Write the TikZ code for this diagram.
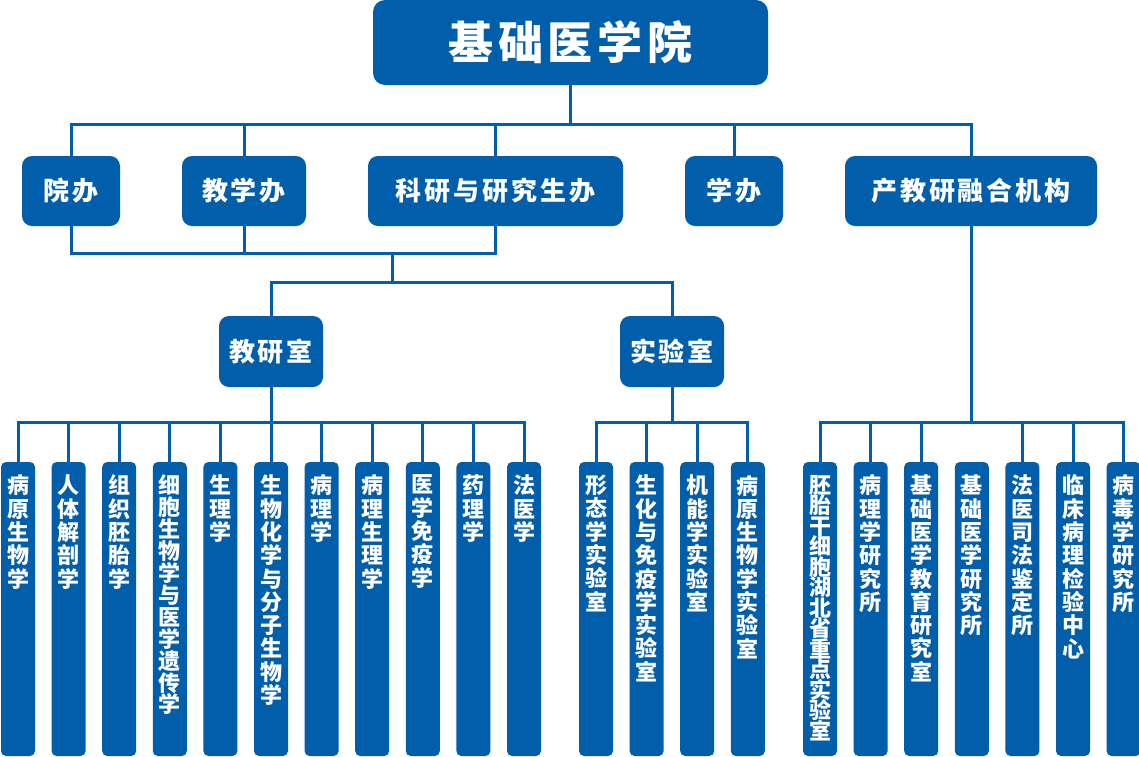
\documentclass[tikz,border=0pt]{standalone}
\usepackage{fontspec}
\setmainfont{Noto Sans CJK SC}[LetterSpace=11]
\usetikzlibrary{positioning}
\definecolor{jcblue}{RGB}{0,94,170}
\newcommand\colfont[1]{\fontsize{22}{#1}\selectfont\bfseries\addfontfeatures{LetterSpace=0}\lineskiplimit=-20pt\relax}

\begin{document}
\begin{tikzpicture}[x=1pt, y=-1pt, node distance=50.6pt,
	unit/.style = {fill=jcblue, rounded corners=10pt, text=white, minimum height=70pt, font=\fontsize{26}{26}\selectfont\bfseries},
	col/.style = {fill=jcblue, rounded corners=5pt, minimum width=34pt, minimum height=294pt, inner sep=0pt},
	coltext/.style = {text=white, align=center, inner sep=0pt, font=\colfont{23.3}},
	link/.style = {draw=jcblue, line width=3pt}]
	\useasboundingbox (0,0) rectangle (1139,756);
	% top
	\node[unit, rounded corners=12pt, minimum width=395pt, minimum height=85pt, font=\fontsize{45}{45}\selectfont\bfseries] (top) at (570.5,42.5) {基础医学院};
	% second row
	\node[unit, minimum width=98pt] (yb) at (71,191) {院办};
	\node[unit, minimum width=124pt] (jx) at (244,191) {教学办};
	\node[unit, minimum width=255pt] (ky) at (495.5,191) {科研与研究生办};
	\node[unit, minimum width=98pt] (xb) at (734,191) {学办};
	\node[unit, minimum width=252pt] (cj) at (971,191) {产教研融合机构};
	% third row
	\node[unit, minimum width=104pt, minimum height=71pt] (jy) at (271,351.5) {教研室};
	\node[unit, minimum width=104pt, minimum height=71pt] (sy) at (672,351.5) {实验室};
	% bus points
	\coordinate (b1) at (570.5,124);
	\coordinate (b2) at (392,253);
	\coordinate (b3) at (392,282);
	\coordinate (b4) at (271,422);
	\coordinate (b5) at (672,422);
	\coordinate (b6) at (971,422);
	% columns of jy
	\node[col] (c1) at (18,609) {};
	\node[col] (c2) [right of=c1] {};
	\node[col] (c3) [right of=c2] {};
	\node[col] (c4) [right of=c3] {};
	\node[col] (c5) [right of=c4] {};
	\node[col] (c6) [right of=c5] {};
	\node[col] (c7) [right of=c6] {};
	\node[col] (c8) [right of=c7] {};
	\node[col] (c9) [right of=c8] {};
	\node[col] (c10) [right of=c9] {};
	\node[col] (c11) [right of=c10] {};
	% columns of sy
	\node[col] (e1) at (596,609) {};
	\node[col] (e2) [right of=e1] {};
	\node[col] (e3) [right of=e2] {};
	\node[col] (e4) [right of=e3] {};
	% columns of cj
	\node[col] (p1) at (820,609) {};
	\node[col] (p2) [right of=p1] {};
	\node[col] (p3) [right of=p2] {};
	\node[col] (p4) [right of=p3] {};
	\node[col] (p5) [right of=p4] {};
	\node[col] (p6) [right of=p5] {};
	\node[col] (p7) [right of=p6] {};
	% column texts
	\node[coltext] (tc1) [below=13pt of c1.north] {病\\原\\生\\物\\学};
	\node[coltext] (tc2) [below=13pt of c2.north] {人\\体\\解\\剖\\学};
	\node[coltext] (tc3) [below=13pt of c3.north] {组\\织\\胚\\胎\\学};
	\node[coltext, font=\colfont{21.9}] (tc4) [below=13pt of c4.north] {细\\胞\\生\\物\\学\\与\\医\\学\\遗\\传\\学};
	\node[coltext] (tc5) [below=13pt of c5.north] {生\\理\\学};
	\node[coltext] (tc6) [below=13pt of c6.north] {生\\物\\化\\学\\与\\分\\子\\生\\物\\学};
	\node[coltext] (tc7) [below=13pt of c7.north] {病\\理\\学};
	\node[coltext] (tc8) [below=13pt of c8.north] {病\\理\\生\\理\\学};
	\node[coltext] (tc9) [below=13pt of c9.north] {医\\学\\免\\疫\\学};
	\node[coltext] (tc10) [below=13pt of c10.north] {药\\理\\学};
	\node[coltext] (tc11) [below=13pt of c11.north] {法\\医\\学};
	\node[coltext] (te1) [below=13pt of e1.north] {形\\态\\学\\实\\验\\室};
	\node[coltext] (te2) [below=13pt of e2.north] {生\\化\\与\\免\\疫\\学\\实\\验\\室};
	\node[coltext] (te3) [below=13pt of e3.north] {机\\能\\学\\实\\验\\室};
	\node[coltext] (te4) [below=13pt of e4.north] {病\\原\\生\\物\\学\\实\\验\\室};
	\node[coltext, font=\colfont{20.5}] (tp1) [below=13pt of p1.north] {胚\\胎\\干\\细\\胞\\湖\\北\\省\\重\\点\\实\\验\\室};
	\node[coltext] (tp2) [below=13pt of p2.north] {病\\理\\学\\研\\究\\所};
	\node[coltext] (tp3) [below=13pt of p3.north] {基\\础\\医\\学\\教\\育\\研\\究\\室};
	\node[coltext] (tp4) [below=13pt of p4.north] {基\\础\\医\\学\\研\\究\\所};
	\node[coltext] (tp5) [below=13pt of p5.north] {法\\医\\司\\法\\鉴\\定\\所};
	\node[coltext] (tp6) [below=13pt of p6.north] {临\\床\\病\\理\\检\\验\\中\\心};
	\node[coltext] (tp7) [below=13pt of p7.north] {病\\毒\\学\\研\\究\\所};
	% links top
	\draw[link] (top.south) -- (b1);
	\draw[link] (yb.north) |- (b1) -| (cj.north);
	\draw[link] (jx.north) -- (jx.north |- b1);
	\draw[link] (ky.north) -- (ky.north |- b1);
	\draw[link] (xb.north) -- (xb.north |- b1);
	% links offices
	\draw[link] (yb.south) |- (b2) -| (ky.south);
	\draw[link] (jx.south) -- (jx.south |- b2);
	\draw[link] (b2) -- (b3);
	\draw[link] (jy.north) |- (b3) -| (sy.north);
	% links jy
	\draw[link] (jy.south) -- (b4);
	\draw[link] (c1.north) |- (b4) -| (c11.north);
	\draw[link] (c2.north) -- (c2.north |- b4);
	\draw[link] (c3.north) -- (c3.north |- b4);
	\draw[link] (c4.north) -- (c4.north |- b4);
	\draw[link] (c5.north) -- (c5.north |- b4);
	\draw[link] (c6.north) -- (c6.north |- b4);
	\draw[link] (c7.north) -- (c7.north |- b4);
	\draw[link] (c8.north) -- (c8.north |- b4);
	\draw[link] (c9.north) -- (c9.north |- b4);
	\draw[link] (c10.north) -- (c10.north |- b4);
	% links sy
	\draw[link] (sy.south) -- (b5);
	\draw[link] (e1.north) |- (b5) -| (e4.north);
	\draw[link] (e2.north) -- (e2.north |- b5);
	\draw[link] (e3.north) -- (e3.north |- b5);
	% links cj
	\draw[link] (cj.south) -- (b6);
	\draw[link] (p1.north) |- (b6) -| (p7.north);
	\draw[link] (p2.north) -- (p2.north |- b6);
	\draw[link] (p3.north) -- (p3.north |- b6);
	\draw[link] (p5.north) -- (p5.north |- b6);
	\draw[link] (p6.north) -- (p6.north |- b6);
\end{tikzpicture}
\end{document}
